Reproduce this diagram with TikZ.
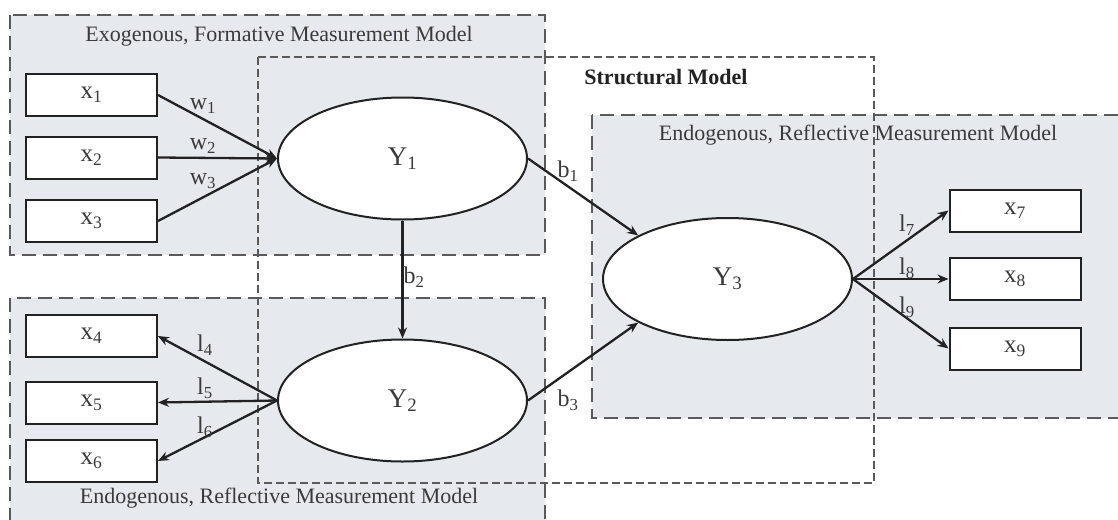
\documentclass[tikz,border=0pt]{standalone}
\usepackage{fontspec}
\setmainfont{Liberation Serif}
\usetikzlibrary{shapes.geometric,arrows.meta}
\definecolor{regfill}{HTML}{E6EAEF}
\definecolor{dashcol}{HTML}{5A5A5A}
\definecolor{inkcol}{HTML}{222222}
\definecolor{txtcol}{HTML}{3A3A3A}
\tikzset{
  regionline/.style={draw=dashcol, line width=2.4pt, dash pattern=on 14pt off 7pt},
  structline/.style={draw=dashcol, line width=2pt, dash pattern=on 8pt off 4pt},
  regionlabel/.style={text=txtcol, font=\fontsize{22}{26}\selectfont},
  indbox/.style={draw=inkcol, line width=2pt, fill=white, minimum width=131pt, minimum height=42pt, inner sep=0pt, text=txtcol, font=\fontsize{25}{29}\selectfont},
  latent/.style={ellipse, draw=inkcol, line width=2pt, fill=white, minimum width=249pt, minimum height=122pt, inner sep=0pt, text=txtcol, font=\fontsize{27}{30}\selectfont},
  path/.style={draw=inkcol, line width=2.3pt, -{Stealth[length=11pt,width=9pt]}},
  elabel/.style={text=txtcol, font=\fontsize{24}{28}\selectfont, inner sep=0pt}
}
\begin{document}
\begin{tikzpicture}[x=1pt,y=-1pt]
\useasboundingbox (0,0) rectangle (1118,519);
\clip (0,0) rectangle (1118,519);
\fill[white] (0,0) rectangle (1118,519);
% region fills
\fill[regfill] (10,15) rectangle (545,255);
\fill[regfill] (592,115) rectangle (1140,418);
\fill[regfill] (10,298) rectangle (545,540);
% region borders
\draw[regionline] (10,15) rectangle (545,255);
\draw[regionline] (592,115) rectangle (1140,418);
\draw[regionline] (10,298) rectangle (545,540);
\draw[structline] (258,57) rectangle (874,483);
% region labels
\node[regionlabel] (lexo) at (279,36) {Exogenous, Formative Measurement Model};
\node[regionlabel, font=\fontsize{22}{26}\selectfont\bfseries, text=inkcol] (lstruct) at (666,77) {Structural Model};
\node[regionlabel] (lendr) at (858,135) {Endogenous, Reflective Measurement Model};
\node[regionlabel] (lendb) at (279,498) {Endogenous, Reflective Measurement Model};
% indicators
\node[indbox] (x1) at (91.5,95) {x\textsubscript{1}};
\node[indbox] (x2) at (91.5,157.5) {x\textsubscript{2}};
\node[indbox] (x3) at (91.5,221) {x\textsubscript{3}};
\node[indbox] (x4) at (91.5,336) {x\textsubscript{4}};
\node[indbox] (x5) at (91.5,402.5) {x\textsubscript{5}};
\node[indbox] (x6) at (91.5,461) {x\textsubscript{6}};
\node[indbox] (x7) at (1015,210.5) {x\textsubscript{7}};
\node[indbox] (x8) at (1015,279) {x\textsubscript{8}};
\node[indbox] (x9) at (1015,348.5) {x\textsubscript{9}};
% latents
\node[latent] (Y1) at (402.5,158.5) {Y\textsubscript{1}};
\node[latent] (Y2) at (402.5,400.5) {Y\textsubscript{2}};
\node[latent] (Y3) at (727.5,279) {Y\textsubscript{3}};
% paths
\draw[path] (x1.east) -- (Y1.west);
\draw[path] (x2.east) -- (Y1.west);
\draw[path] (x3.east) -- (Y1.west);
\draw[path] (Y2.west) -- (x4.east);
\draw[path] (Y2.west) -- (x5.east);
\draw[path] (Y2.west) -- (x6.east);
\draw[path] (Y3.east) -- (x7.west);
\draw[path] (Y3.east) -- (x8.west);
\draw[path] (Y3.east) -- (x9.west);
\draw[path] (Y1.south) -- (Y2.north);
\draw[path] (Y1.east) -- (Y3.154);
\draw[path] (Y2.east) -- (Y3.206);
% path labels
\node[elabel] (w1) at (203,106) {w\textsubscript{1}};
\node[elabel] (w2) at (203,146) {w\textsubscript{2}};
\node[elabel] (w3) at (203,181) {w\textsubscript{3}};
\node[elabel] (l4) at (205,345) {l\textsubscript{4}};
\node[elabel] (l5) at (205,388) {l\textsubscript{5}};
\node[elabel] (l6) at (205,427) {l\textsubscript{6}};
\node[elabel] (b1) at (568,171) {b\textsubscript{1}};
\node[elabel] (b2) at (414,277) {b\textsubscript{2}};
\node[elabel] (b3) at (568,400) {b\textsubscript{3}};
\node[elabel] (l7) at (907,225) {l\textsubscript{7}};
\node[elabel] (l8) at (907,268) {l\textsubscript{8}};
\node[elabel] (l9) at (907,307) {l\textsubscript{9}};
\end{tikzpicture}
\end{document}
